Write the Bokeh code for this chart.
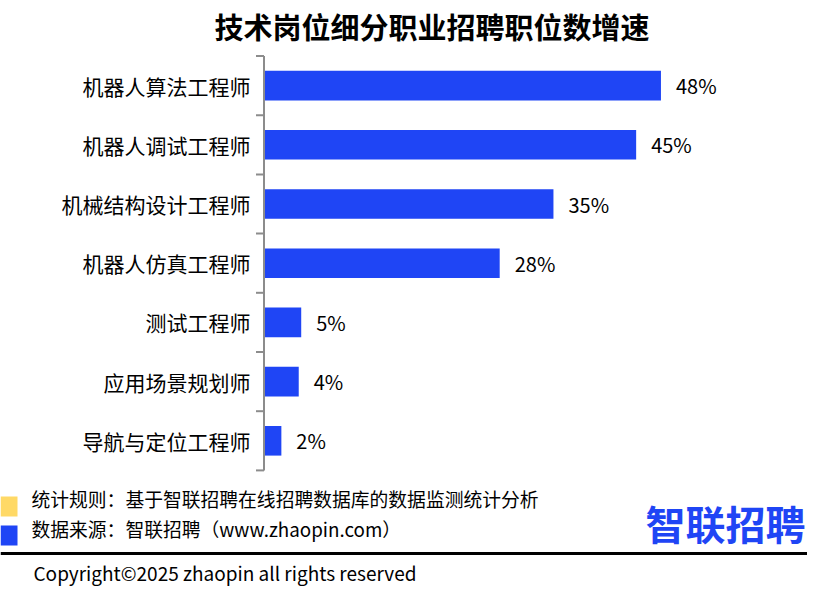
from bokeh.plotting import figure
from bokeh.models import Range1d, ColumnDataSource
from bokeh.core.properties import value
from bokeh.embed import file_html
from bokeh.resources import INLINE

# ---- data ----
categories = ["机器人算法工程师", "机器人调试工程师", "机械结构设计工程师", "机器人仿真工程师",
              "测试工程师", "应用场景规划师", "导航与定位工程师"]
growth = [48, 45, 35, 28.5, 4.5, 4.2, 2.1]
growth_labels = ["48%", "45%", "35%", "28%", "5%", "4%", "2%"]
title_text = "技术岗位细分职业招聘职位数增速"
rule_text = "统计规则：基于智联招聘在线招聘数据库的数据监测统计分析"
source_text = "数据来源：智联招聘（www.zhaopin.com）"
brand_text = "智联招聘"
copyright_text = "Copyright©2025 zhaopin all rights reserved"

# ---- layout constants (pixels) ----
W, H = 807, 589
X0 = 263.5     # pixel of value 0 (axis line)
PX = 8.27      # pixels per percentage point
Y0 = 55.5      # pixel of the first category's top edge
BAND = 59.2    # pixels per category
TICK = 8

FONT = value("Noto Sans CJK SC")
BLUE = "#1f45f5"
YELLOW = "#ffd966"
GRAY = "#8c8c8c"

p = figure(width=W, height=H, title=None,
           x_range=Range1d(-X0 / PX, (W - X0) / PX),
           y_range=Range1d((H - Y0) / BAND, -Y0 / BAND),
           x_axis_location=None, y_axis_location=None,
           output_backend="svg", toolbar_location=None, min_border=0)
p.grid.visible = False
p.outline_line_color = None
p.extra_x_ranges = {"px": Range1d(0, W)}
p.extra_y_ranges = {"px": Range1d(H, 0)}

n = len(categories)
ypos = [i + 0.5 for i in range(n)]
src = ColumnDataSource(dict(y=ypos, v=growth, lab=growth_labels, cat=categories))

# bars and value labels
p.hbar(y="y", left=0, right="v", height=0.5, source=src, color=BLUE, line_color=None)
p.text(x="v", y="y", text="lab", source=src, x_offset=15, text_font=FONT,
       text_font_size="20px", text_baseline="middle", text_align="left", text_color="#000000")

# category axis: line, boundary ticks, labels
bounds = list(range(n + 1))
p.segment(x0=[0], x1=[0], y0=[0], y1=[n], line_color=GRAY, line_width=2)
p.segment(x0=[-TICK / PX] * len(bounds), x1=[0] * len(bounds), y0=bounds, y1=bounds,
          line_color=GRAY, line_width=2)
p.text(x=0, y="y", text="cat", source=src, x_offset=-13.5, text_font=FONT,
       text_font_size="21px", text_baseline="middle", text_align="right", text_color="#000000")

# title
p.text(x=[431.5], y=[25], text=[title_text], x_range_name="px", y_range_name="px",
       text_font=FONT, text_font_size="29px", text_font_style="bold",
       text_align="center", text_baseline="middle", text_color="#000000")

# footer
p.quad(left=[0], right=[17], top=[496], bottom=[516], color=YELLOW, line_color=None,
       x_range_name="px", y_range_name="px")
p.quad(left=[0], right=[17], top=[525], bottom=[545], color=BLUE, line_color=None,
       x_range_name="px", y_range_name="px")
p.text(x=[31, 31], y=[498, 528], text=[rule_text, source_text], x_range_name="px", y_range_name="px",
       text_font=FONT, text_font_size="18.8px", text_baseline="middle", text_align="left",
       text_color="#000000")
p.text(x=[725], y=[522], text=[brand_text], x_range_name="px", y_range_name="px",
       text_font=FONT, text_font_size="40px", text_font_style="bold",
       text_baseline="middle", text_align="center", text_color=BLUE)
p.segment(x0=[0], x1=[W], y0=[553], y1=[553], line_color="#000000", line_width=3,
          x_range_name="px", y_range_name="px")
p.text(x=[33], y=[572], text=[copyright_text], x_range_name="px", y_range_name="px",
       text_font=FONT, text_font_size="19px", text_baseline="middle", text_align="left",
       text_color="#000000")

open("out.html", "w").write(file_html(p, INLINE))
